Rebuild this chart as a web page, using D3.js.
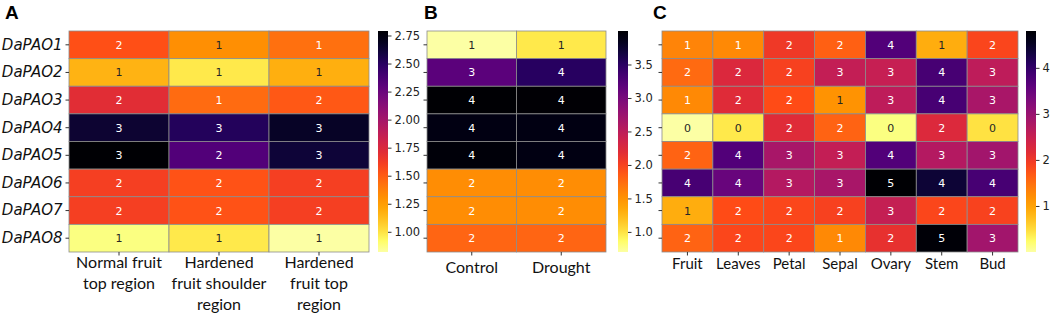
<!DOCTYPE html>
<html>
<head>
<meta charset="utf-8">
<script src="https://cdn.jsdelivr.net/npm/d3@7"></script>
<style>
  body { margin: 0; background: #fff; }
  svg { display: block; }
</style>
</head>
<body>
<div id="chart"></div>
<script>
var width = 1052
var height = 316

var genes = ["DaPAO1", "DaPAO2", "DaPAO3", "DaPAO4", "DaPAO5", "DaPAO6", "DaPAO7", "DaPAO8"]

// panel A: fruit regions
var regionLabels = [["Normal fruit", "top region"], ["Hardened", "fruit shoulder", "region"], ["Hardened", "fruit top", "region"]]
var regionValues = [
  [1.55, 1.31, 1.43],
  [1.16, 0.98, 1.18],
  [1.71, 1.45, 1.52],
  [2.63, 2.52, 2.67],
  [2.79, 2.34, 2.62],
  [1.61, 1.53, 1.61],
  [1.61, 1.53, 1.61],
  [0.88, 0.98, 0.82]
]
var regionTicks = [1.00, 1.25, 1.50, 1.75, 2.00, 2.25, 2.50, 2.75]

// panel B: drought
var stressLabels = [["Control"], ["Drought"]]
var stressValues = [
  [0.70, 0.96],
  [3.20, 3.52],
  [4.00, 3.98],
  [3.90, 3.90],
  [3.95, 3.90],
  [1.53, 1.53],
  [1.53, 1.53],
  [1.79, 1.79]
]
var stressTicks = [1.0, 1.5, 2.0, 2.5, 3.0, 3.5]

// panel C: tissues
var tissueLabels = [["Fruit"], ["Leaves"], ["Petal"], ["Sepal"], ["Ovary"], ["Stem"], ["Bud"]]
var tissueValues = [
  [1.30, 1.25, 2.00, 1.63, 3.70, 0.90, 1.87],
  [1.54, 2.26, 1.90, 2.55, 2.50, 3.80, 2.60],
  [1.25, 2.20, 1.80, 1.15, 2.60, 3.80, 2.83],
  [0.00, 0.38, 2.20, 1.60, 0.15, 2.25, 0.45],
  [1.60, 3.70, 2.85, 2.55, 3.70, 2.70, 2.90],
  [3.80, 3.50, 2.70, 2.85, 4.80, 4.40, 3.80],
  [0.90, 1.80, 1.85, 1.90, 2.52, 1.85, 1.88],
  [1.60, 1.85, 1.85, 1.25, 2.10, 4.75, 2.90]
]
var tissueTicks = [1, 2, 3, 4]

var svg = d3.select("#chart")
  .append("svg")
    .attr("width", width)
    .attr("height", height)

var yTop = 31, yBottom = 252

// inferno reversed (inferno_r); the figure's colours look a bit more saturated
var cmap = t => {
  var c = d3.hsl(d3.interpolateInferno(1 - t))
  c.s = Math.min(1, c.s * 1.3)
  return c.formatHex()
}

// seaborn style: dark text on light cells
function textColor(c) {
  var rgb = d3.rgb(c)
  var lin = [rgb.r, rgb.g, rgb.b].map(v => {
    v = v / 255
    return v <= 0.03928 ? v / 12.92 : Math.pow((v + 0.055) / 1.055, 2.4)
  })
  var lum = 0.2126 * lin[0] + 0.7152 * lin[1] + 0.0722 * lin[2]
  return lum > 0.408 ? "#262626" : "#fff"
}

const drawPanel = (cfg) => {
  var values = cfg.values
  var cols = d3.range(values[0].length)
  var ext = d3.extent(values.flat())
  var color = d3.scaleSequential(cmap).domain(ext)

  var x = d3.scaleBand().domain(cols).range([cfg.left, cfg.right])
  var y = d3.scaleBand().domain(genes).range([yTop, yBottom])

  var g = svg.append("g")

  // panel letter
  g.append("text")
    .attr("x", cfg.letterX)
    .attr("y", 19)
    .attr("font-family", "Liberation Sans, Arial, sans-serif")
    .attr("font-weight", "bold")
    .attr("font-size", 19)
    .text(cfg.letter)

  var cells = []
  values.forEach((row, i) => row.forEach((v, j) => cells.push({ gene: genes[i], col: j, v: v })))

  g.selectAll("rect.cell").data(cells)
    .enter().append("rect")
      .attr("class", "cell")
      .attr("x", d => x(d.col))
      .attr("y", d => y(d.gene))
      .attr("width", x.bandwidth())
      .attr("height", y.bandwidth())
      .attr("fill", d => color(d.v))
      .attr("stroke", "#8c8c8c")
      .attr("stroke-width", 0.8)

  g.selectAll("text.annot").data(cells)
    .enter().append("text")
      .attr("class", "annot")
      .attr("x", d => x(d.col) + x.bandwidth() / 2)
      .attr("y", d => y(d.gene) + y.bandwidth() / 2)
      .attr("dy", "0.36em")
      .attr("text-anchor", "middle")
      .attr("font-family", "DejaVu Sans, sans-serif")
      .attr("font-size", 11)
      .attr("fill", d => textColor(color(d.v)))
      .text(d => d3.format(".0f")(d.v))

  // y axis
  var yAxis = d3.axisLeft(y).tickSize(3.5).tickPadding(3)
  if (!cfg.showGenes) yAxis.tickFormat("")
  var ya = g.append("g")
    .attr("transform", `translate(${cfg.left},0)`)
    .call(yAxis)
  ya.select(".domain").remove()
  ya.selectAll("line").attr("stroke", "#333")
  ya.selectAll("text")
    .attr("font-family", "DejaVu Sans, sans-serif")
    .attr("font-style", "italic")
    .attr("font-size", 15)
    .attr("fill", "#111")

  // x axis
  var xa = g.append("g")
    .attr("transform", `translate(0,${yBottom})`)
    .call(d3.axisBottom(x).tickSize(3.5).tickFormat(""))
  xa.select(".domain").remove()
  xa.selectAll("line").attr("stroke", "#333")

  cols.forEach(j => {
    var t = g.append("text")
      .attr("x", x(j) + x.bandwidth() / 2)
      .attr("y", cfg.labelY)
      .attr("text-anchor", "middle")
      .attr("font-family", "Lato, Open Sans, sans-serif")
      .attr("font-size", cfg.labelSize)
      .attr("fill", "#111")
    cfg.labels[j].forEach((line, k) => {
      t.append("tspan")
        .attr("x", x(j) + x.bandwidth() / 2)
        .attr("dy", k === 0 ? 0 : 21)
        .text(line)
    })
  })

  // colour bar
  var gid = "grad" + cfg.letter
  var grad = svg.append("defs").append("linearGradient")
    .attr("id", gid)
    .attr("x1", 0).attr("y1", 1).attr("x2", 0).attr("y2", 0)
  d3.range(0, 1.0001, 0.05).forEach(t => {
    grad.append("stop").attr("offset", t).attr("stop-color", cmap(t))
  })
  var cb = d3.scaleLinear().domain(ext).range([yBottom, yTop])
  g.append("rect")
    .attr("x", cfg.cbX)
    .attr("y", yTop)
    .attr("width", 10)
    .attr("height", yBottom - yTop)
    .attr("fill", `url(#${gid})`)
  var ca = g.append("g")
    .attr("transform", `translate(${cfg.cbX + 10},0)`)
    .call(d3.axisRight(cb).tickValues(cfg.ticks).tickFormat(d3.format(cfg.tickFmt)).tickSize(3.5).tickPadding(3))
  ca.select(".domain").remove()
  ca.selectAll("line").attr("stroke", "#333")
  ca.selectAll("text")
    .attr("font-family", "DejaVu Sans, sans-serif")
    .attr("font-size", 11.5)
    .attr("fill", "#222")
}

drawPanel({ letter: "A", letterX: 5, left: 69, right: 369, cbX: 378, values: regionValues,
  labels: regionLabels, ticks: regionTicks, tickFmt: ".2f", showGenes: true, labelY: 268, labelSize: 16 })
drawPanel({ letter: "B", letterX: 424, left: 427, right: 606, cbX: 618, values: stressValues,
  labels: stressLabels, ticks: stressTicks, tickFmt: ".1f", showGenes: false, labelY: 273, labelSize: 16 })
drawPanel({ letter: "C", letterX: 653, left: 662, right: 1018, cbX: 1026, values: tissueValues,
  labels: tissueLabels, ticks: tissueTicks, tickFmt: "d", showGenes: false, labelY: 269, labelSize: 15 })
</script>
</body>
</html>
